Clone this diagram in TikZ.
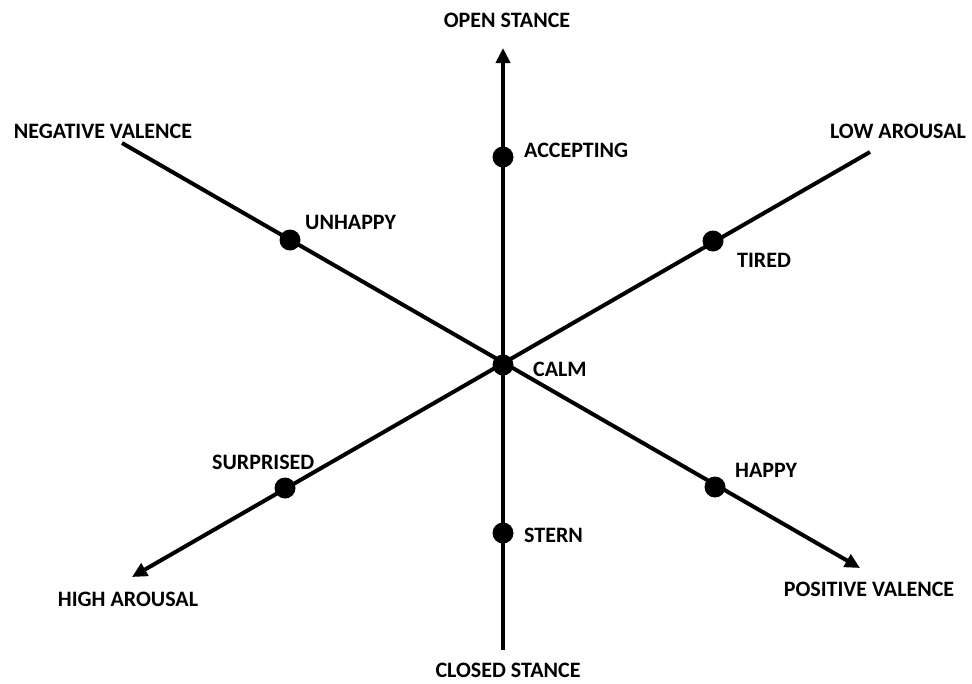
\documentclass[tikz,border=0pt]{standalone}
\usepackage{fontspec}
\setmainfont{Carlito}
\usetikzlibrary{arrows.meta}
\begin{document}
\begin{tikzpicture}[x=1pt,y=-1pt,
  axis/.style={line width=4pt},
  tip/.style={-{Triangle[length=15pt,width=14pt]}},
  dot/.style={circle,fill=black,inner sep=0pt,minimum size=21pt},
  lbl/.style={font=\bfseries\fontsize{22}{22}\selectfont,inner sep=0pt}]
\useasboundingbox (0,0) rectangle (972,683);
\coordinate (c) at (503,365);
\coordinate (vtop) at (503,48);
\coordinate (vbot) at (503,650);
\coordinate (nv) at (122,143);
\coordinate (pv) at (860,568);
\coordinate (la) at (870,152);
\coordinate (ha) at (132,577);
\draw[axis,tip] (vbot) -- (vtop);
\draw[axis,tip] (nv) -- (pv);
\draw[axis,tip] (la) -- (ha);
\node[dot] (calm) at (c) {};
\node[dot] (acc) at (503,157) {};
\node[dot] (unh) at (290,240) {};
\node[dot] (tir) at (713,241) {};
\node[dot] (sur) at (285,488) {};
\node[dot] (hap) at (715,487) {};
\node[dot] (ste) at (503,533) {};
\node[lbl] at (507,20) {OPEN STANCE};
\node[lbl] at (508,670) {CLOSED STANCE};
\node[lbl] at (103,131) {NEGATIVE VALENCE};
\node[lbl] at (898,131) {LOW AROUSAL};
\node[lbl] at (128,599) {HIGH AROUSAL};
\node[lbl] at (869,589) {POSITIVE VALENCE};
\node[lbl,anchor=west] at (524,150) {ACCEPTING};
\node[lbl,anchor=west] at (305,222) {UNHAPPY};
\node[lbl,anchor=west] at (737,260) {TIRED};
\node[lbl,anchor=west] at (533,369) {CALM};
\node[lbl,anchor=west] at (212,462) {SURPRISED};
\node[lbl,anchor=west] at (735,470) {HAPPY};
\node[lbl,anchor=west] at (524,535) {STERN};
\end{tikzpicture}
\end{document}
